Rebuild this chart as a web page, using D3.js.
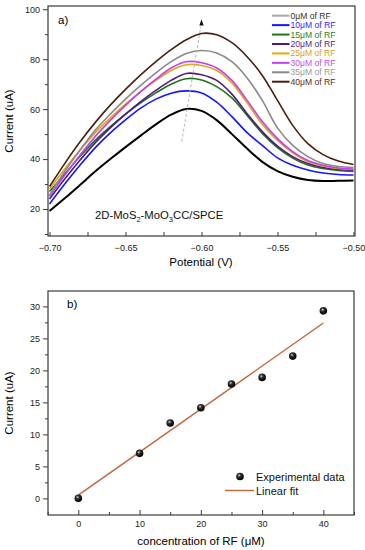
<!DOCTYPE html>
<html>
<head>
<meta charset="utf-8">
<script src="https://cdn.jsdelivr.net/npm/d3@7"></script>
<style>
  body { margin: 0; background: #fff; }
  text { font-family: Arial, "Liberation Sans", sans-serif; }
</style>
</head>
<body>
<div id="chart"></div>
<script>
// potentials (V) shared by all voltammograms
var potentials = [-0.70, -0.69, -0.68, -0.67, -0.66, -0.65, -0.64, -0.63, -0.62, -0.61, -0.60,
                  -0.59, -0.58, -0.57, -0.56, -0.55, -0.54, -0.53, -0.52, -0.51, -0.50];

// current (uA) for each RF concentration
var rf0  = [19.2, 24.3, 29.6, 35.0, 40.0, 44.8, 49.4, 53.9, 57.8, 60.1, 59.3, 55.6, 50.0, 44.2, 38.9, 35.2, 32.9, 31.6, 31.2, 31.3, 31.4];
var rf10 = [22.0, 30.0, 37.5, 44.5, 50.5, 55.7, 60.4, 64.0, 66.4, 67.3, 66.5, 62.8, 57.0, 50.6, 45.5, 40.5, 37.5, 35.6, 34.4, 33.8, 33.6];
var rf15 = [27.0, 34.0, 41.0, 47.5, 53.0, 58.0, 62.5, 66.5, 70.0, 72.2, 71.7, 69.0, 64.5, 57.5, 50.3, 44.6, 40.4, 37.6, 36.2, 35.4, 35.0];
var rf20 = [24.0, 32.0, 39.5, 46.5, 52.5, 58.0, 63.0, 67.5, 71.5, 74.3, 73.8, 71.5, 66.0, 58.2, 51.0, 45.2, 41.0, 38.2, 36.6, 35.8, 35.5];
var rf25 = [28.0, 36.0, 43.5, 50.5, 56.5, 62.0, 67.0, 71.5, 75.5, 77.8, 77.5, 75.5, 70.5, 62.5, 54.0, 47.5, 42.5, 39.0, 37.2, 36.2, 35.8];
var rf30 = [25.0, 33.5, 41.5, 49.0, 55.5, 61.5, 67.0, 72.0, 76.5, 79.0, 78.6, 76.5, 71.5, 63.5, 55.0, 48.2, 43.0, 39.4, 37.5, 36.4, 36.0];
var rf35 = [25.5, 35.0, 43.5, 51.5, 58.0, 64.0, 69.5, 74.5, 79.0, 82.3, 83.5, 82.5, 79.0, 72.5, 63.5, 52.5, 45.5, 41.0, 38.2, 37.0, 36.6];
var rf40 = [29.0, 38.2, 46.8, 54.6, 61.6, 67.9, 73.7, 79.0, 83.8, 87.8, 90.3, 89.8, 86.6, 81.0, 73.5, 63.5, 53.5, 46.2, 41.8, 39.2, 37.8];

var seriesNames = ["0\u03bcM of RF", "10\u03bcM of RF", "15\u03bcM of RF", "20\u03bcM of RF",
                   "25\u03bcM of RF", "30\u03bcM of RF", "35\u03bcM of RF", "40\u03bcM of RF"];
var seriesValues = [rf0, rf10, rf15, rf20, rf25, rf30, rf35, rf40];
var lineColors = ["#000000", "#1414ff", "#23721c", "#4a1d7c", "#dcaa12", "#c53ef2", "#8a8a8a", "#4b1e10"];
var swatchColors = ["#a8a8a8", "#1414ff", "#23721c", "#4a1d7c", "#dcaa12", "#c53ef2", "#8a8a8a", "#4b1e10"];
var textColors = ["#333333", "#2b2bff", "#2f7d28", "#55287f", "#d4a21a", "#c64af0", "#9a9a9a", "#5a2a1a"];

// calibration data (panel b)
var concentrations = [0, 10, 15, 20, 25, 30, 35, 40];
var peakCurrents = [0.0, 7.03, 11.77, 14.16, 17.86, 18.9, 22.23, 29.3];
var fitX = [0, 40];
var fitY = [0.5, 27.4];

// tick labels
var potentialTicks = [-0.70, -0.65, -0.60, -0.55, -0.50];
var currentTicksA = [20, 40, 60, 80, 100];
var concTicks = [0, 10, 20, 30, 40];
var currentTicksB = [0, 5, 10, 15, 20, 25, 30];

var svg = d3.select("#chart")
  .append("svg")
    .attr("width", 365)
    .attr("height", 550);

var frameColor = "#3a3a3a";

// ---------- panel a ----------
var a = {left: 48, right: 355, top: 6, bottom: 236};

var xA = d3.scaleLinear()
  .domain([-0.701, -0.499])
  .range([a.left, a.right]);
var yA = d3.scaleLinear()
  .domain([9.2, 101.3])
  .range([a.bottom, a.top]);

var gA = svg.append("g");

// curves
var lineA = d3.line()
  .x(function(d) { return xA(d.x); })
  .y(function(d) { return yA(d.y); })
  .curve(d3.curveCatmullRom.alpha(0.5));

seriesValues.forEach(function(vals, i) {
  var pts = potentials.map(function(p, j) { return {x: p, y: vals[j]}; });
  gA.append("path")
    .datum(pts)
    .attr("fill", "none")
    .attr("stroke", lineColors[i])
    .attr("stroke-width", i == 0 ? 2 : 1.6)
    .attr("d", lineA);
});

// dashed arrow showing the increase
gA.append("line")
  .attr("x1", xA(-0.613)).attr("y1", yA(47))
  .attr("x2", xA(-0.6005)).attr("y2", yA(93))
  .attr("stroke", "#b8b8b8")
  .attr("stroke-width", 1)
  .attr("stroke-dasharray", "3,2");
var ax = xA(-0.6), ay = yA(95.5);
gA.append("path")
  .attr("d", "M" + ax + "," + (ay - 1) + "L" + (ax - 2.2) + "," + (ay + 5) + "L" + (ax + 2.2) + "," + (ay + 5) + "Z")
  .attr("fill", "#111");

// axes
gA.append("g")
  .attr("transform", "translate(0," + a.bottom + ")")
  .call(d3.axisBottom(xA).tickValues(d3.range(-0.70, -0.4999, 0.025)).tickSize(-4).tickFormat(""))
  .call(function(g) { g.select(".domain").remove(); });
gA.append("g")
  .attr("transform", "translate(0," + a.bottom + ")")
  .call(d3.axisBottom(xA).tickValues(potentialTicks).tickSize(0).tickPadding(9).tickFormat(d3.format(".2f")))
  .call(function(g) { g.select(".domain").remove(); });
gA.append("g")
  .attr("transform", "translate(" + a.left + ",0)")
  .call(d3.axisLeft(yA).tickValues([10, 30, 50, 70, 90]).tickSize(3).tickFormat(""))
  .call(function(g) { g.select(".domain").remove(); });
gA.append("g")
  .attr("transform", "translate(" + a.left + ",0)")
  .call(d3.axisLeft(yA).tickValues(currentTicksA).tickSize(5).tickPadding(3))
  .call(function(g) { g.select(".domain").remove(); });

gA.append("rect")
  .attr("x", a.left).attr("y", a.top)
  .attr("width", a.right - a.left).attr("height", a.bottom - a.top)
  .attr("fill", "none").attr("stroke", frameColor).attr("stroke-width", 1.2);

// legend a
seriesNames.forEach(function(name, i) {
  var ly = 15.7 + i * 9.43;
  gA.append("line")
    .attr("x1", 272).attr("x2", 289.5)
    .attr("y1", ly).attr("y2", ly)
    .attr("stroke", swatchColors[i]).attr("stroke-width", 2);
  gA.append("text")
    .attr("x", 290.5).attr("y", ly + 3)
    .attr("font-size", 8.6)
    .attr("fill", textColors[i])
    .text(name);
});

gA.append("text").attr("x", 58).attr("y", 24).attr("font-size", 11.5).text("a)");

var label = gA.append("text").attr("x", 95).attr("y", 219).attr("font-size", 11.3).attr("fill", "#111");
label.append("tspan").text("2D-MoS");
label.append("tspan").attr("font-size", 7.5).attr("dy", 3).text("2");
label.append("tspan").attr("dy", -3).text("-MoO");
label.append("tspan").attr("font-size", 7.5).attr("dy", 3).text("3");
label.append("tspan").attr("dy", -3).text("CC/SPCE");

gA.append("text")
  .attr("x", 201).attr("y", 266)
  .attr("text-anchor", "middle").attr("font-size", 11.5)
  .text("Potential (V)");
gA.append("text")
  .attr("transform", "translate(13," + ((a.top + a.bottom) / 2) + ")rotate(-90)")
  .attr("text-anchor", "middle").attr("font-size", 11.5)
  .text("Current (uA)");

// ---------- panel b ----------
var b = {left: 48, right: 354, top: 291, bottom: 515};

var xB = d3.scaleLinear()
  .domain([-4.95, 45])
  .range([b.left, b.right]);
var yB = d3.scaleLinear()
  .domain([-2.6, 32.4])
  .range([b.bottom, b.top]);

var gB = svg.append("g");

gB.append("g")
  .attr("transform", "translate(0," + b.bottom + ")")
  .call(d3.axisBottom(xB).tickValues([-5, 5, 15, 25, 35, 45]).tickSize(-3).tickFormat(""))
  .call(function(g) { g.select(".domain").remove(); });
gB.append("g")
  .attr("transform", "translate(0," + b.bottom + ")")
  .call(d3.axisBottom(xB).tickValues(concTicks).tickSize(-5).tickPadding(6))
  .call(function(g) { g.select(".domain").remove(); });
gB.append("g")
  .attr("transform", "translate(" + b.left + ",0)")
  .call(d3.axisLeft(yB).tickValues([2.5, 7.5, 12.5, 17.5, 22.5, 27.5]).tickSize(3).tickFormat(""))
  .call(function(g) { g.select(".domain").remove(); });
gB.append("g")
  .attr("transform", "translate(" + b.left + ",0)")
  .call(d3.axisLeft(yB).tickValues(currentTicksB).tickSize(5).tickPadding(3))
  .call(function(g) { g.select(".domain").remove(); });

gB.append("rect")
  .attr("x", b.left).attr("y", b.top)
  .attr("width", b.right - b.left).attr("height", b.bottom - b.top)
  .attr("fill", "none").attr("stroke", frameColor).attr("stroke-width", 1.2);

// sphere-looking markers
var grad = svg.append("defs").append("radialGradient")
  .attr("id", "ball").attr("cx", "40%").attr("cy", "35%").attr("r", "60%");
grad.append("stop").attr("offset", "0%").attr("stop-color", "#d8d8d8");
grad.append("stop").attr("offset", "35%").attr("stop-color", "#333");
grad.append("stop").attr("offset", "100%").attr("stop-color", "#000");

// linear fit
var fitPts = fitX.map(function(v, i) { return {x: v, y: fitY[i]}; });
gB.append("path")
  .datum(fitPts)
  .attr("fill", "none")
  .attr("stroke", "#c0643c")
  .attr("stroke-width", 1.4)
  .attr("d", d3.line().x(function(d) { return xB(d.x); }).y(function(d) { return yB(d.y); }));

gB.selectAll("circle.pt")
  .data(concentrations)
  .enter()
  .append("circle")
    .attr("class", "pt")
    .attr("cx", function(d) { return xB(d); })
    .attr("cy", function(d, i) { return yB(peakCurrents[i]); })
    .attr("r", 3.8)
    .attr("fill", "url(#ball)");

gB.append("text").attr("x", 67).attr("y", 308).attr("font-size", 11.5).text("b)");

// legend b
gB.append("circle").attr("cx", 240).attr("cy", 476.5).attr("r", 3.8).attr("fill", "url(#ball)");
gB.append("text").attr("x", 256).attr("y", 480.5).attr("font-size", 11).attr("fill", "#111").text("Experimental data");
gB.append("line").attr("x1", 225).attr("x2", 254).attr("y1", 490.5).attr("y2", 490.5)
  .attr("stroke", "#c0643c").attr("stroke-width", 1.4);
gB.append("text").attr("x", 256).attr("y", 494.5).attr("font-size", 11).attr("fill", "#111").text("Linear fit");

gB.append("text")
  .attr("x", 201).attr("y", 545)
  .attr("text-anchor", "middle").attr("font-size", 11.5)
  .text("concentration of RF (\u03bcM)");
gB.append("text")
  .attr("transform", "translate(13," + ((b.top + b.bottom) / 2) + ")rotate(-90)")
  .attr("text-anchor", "middle").attr("font-size", 11.5)
  .text("Current (uA)");

// tick label styling
svg.selectAll(".tick text").attr("font-size", 9).attr("fill", "#222");
svg.selectAll(".tick line").attr("stroke", frameColor);
</script>
</body>
</html>
